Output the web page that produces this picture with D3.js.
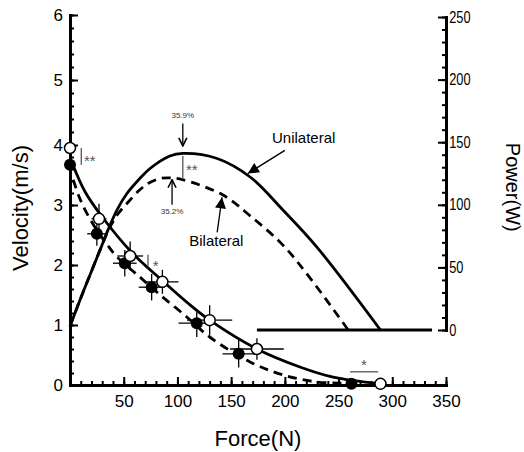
<!DOCTYPE html>
<html>
<head>
<meta charset="utf-8">
<script src="https://cdn.jsdelivr.net/npm/d3@7"></script>
<style>
body { margin: 0; background: #fff; }
svg { display: block; font-family: "Liberation Sans", Arial, sans-serif; }
</style>
</head>
<body>
<div id="chart"></div>
<script>
// measured means (open = unilateral, filled = bilateral)
const uniForce = [0, 27, 56, 86, 130, 174, 289];
const uniVel = [3.95, 2.77, 2.15, 1.72, 1.08, 0.60, 0.02];
const uniForceErr = [0, 7, 12, 15, 21, 25, 0];
const uniVelErr = [0, 0.25, 0.24, 0.2, 0.25, 0.18, 0];

const biForce = [0, 25, 51, 76, 118, 157, 262];
const biVel = [3.67, 2.52, 2.03, 1.63, 1.03, 0.52, 0.02];
const biForceErr = [0, 9, 11, 12, 17, 15, 0];
const biVelErr = [0, 0.2, 0.22, 0.22, 0.23, 0.23, 0];

// fitted force-velocity curves
const uniFitForce = [2, 14, 30, 58, 84, 112, 130, 174, 214, 245, 289];
const uniFitVel = [3.70, 3.22, 2.80, 2.20, 1.77, 1.33, 1.08, 0.60, 0.30, 0.13, 0.02];
const biFitForce = [3, 8, 14, 25, 35, 44, 65, 84, 109, 130, 168, 198, 230, 259];
const biFitVel = [3.42, 3.16, 2.92, 2.58, 2.33, 2.13, 1.80, 1.50, 1.13, 0.80, 0.38, 0.17, 0.05, 0.03];

// force-power curves (right axis)
const uniPowForce = [0, 9.3, 18.6, 28, 35.4, 43.8, 53, 65, 74.5, 93, 105, 137, 168, 198, 230, 289];
const uniPow = [3, 24, 44, 64, 80, 96, 109, 121, 129, 139, 141, 137, 122, 96, 66, 0];
const biPowForce = [0, 9.3, 18.6, 28, 35.4, 44, 54, 65, 72.6, 84, 93, 105, 142, 168, 198, 223, 259];
const biPow = [3, 24, 44, 64, 79, 92, 102, 112, 117, 121, 121.5, 120, 108, 91, 68, 42, 0];
const powZeroForce = [174, 337];

// axis ticks
const forceTicks = [50, 100, 150, 200, 250, 300, 350];
const velTicks = [0, 1, 2, 3, 4, 5, 6];
const powTicks = [0, 50, 100, 150, 200, 250];

const width = 524, height = 452;

const svg = d3.select('#chart').append('svg')
    .attr('width', width)
    .attr('height', height)
    .attr('viewBox', [0, 0, width, height]);

let x = d3.scaleLinear().domain([0, 350]).range([70, 446]);
// the printed velocity axis is not quite even above 4
let yV = d3.scaleLinear().domain([0, 4, 6]).range([385, 145, 15]);
let yP = d3.scaleLinear().domain([0, 250]).range([330, 17]);

svg.append('defs').call(defs => {
    defs.append('marker')
        .attr('id', 'headFill')
        .attr('viewBox', '0 0 10 10')
        .attr('refX', 10).attr('refY', 5)
        .attr('markerUnits', 'userSpaceOnUse')
        .attr('markerWidth', 15).attr('markerHeight', 11)
        .attr('orient', 'auto')
        .append('path').attr('d', 'M0,0L10,5L0,10Z').attr('fill', '#000');
    defs.append('marker')
        .attr('id', 'headOpen')
        .attr('viewBox', '0 0 10 10')
        .attr('refX', 9).attr('refY', 5)
        .attr('markerUnits', 'userSpaceOnUse')
        .attr('markerWidth', 10).attr('markerHeight', 10)
        .attr('orient', 'auto')
        .append('path').attr('d', 'M1,1L9,5L1,9').attr('fill', 'none')
        .attr('stroke', '#000').attr('stroke-width', 1.6);
});

function styleAxis(g, fontSize) {
    g.select('.domain').attr('stroke-width', 3).attr('stroke-linecap', 'square');
    g.selectAll('.tick line').attr('stroke-width', 2);
    g.selectAll('.tick text').attr('font-size', fontSize).attr('fill', '#000')
        .attr('font-family', '"Liberation Sans", Arial, sans-serif');
}

// left axis (velocity)
svg.append('g')
    .attr('transform', `translate(${x(0)},0)`)
    .call(d3.axisLeft(yV).tickValues(d3.range(0, 6.01, 0.2)).tickSizeInner(-4).tickSizeOuter(0).tickFormat(''))
    .call(g => styleAxis(g, 17));
svg.append('g')
    .attr('transform', `translate(${x(0)},0)`)
    .call(d3.axisLeft(yV).tickValues(velTicks).tickSizeInner(-8).tickSizeOuter(0).tickPadding(7).tickFormat(d3.format('d')))
    .call(g => styleAxis(g, 17));

// bottom axis (force)
svg.append('g')
    .attr('transform', `translate(0,${yV(0)})`)
    .call(d3.axisBottom(x).tickValues(d3.range(0, 351, 10)).tickSizeInner(-4).tickSizeOuter(0).tickFormat(''))
    .call(g => styleAxis(g, 17));
svg.append('g')
    .attr('transform', `translate(0,${yV(0)})`)
    .call(d3.axisBottom(x).tickValues(forceTicks).tickSizeInner(-8).tickSizeOuter(0).tickPadding(10))
    .call(g => styleAxis(g, 17));

// right axis (power) - labels are printed in a narrow face
svg.append('g')
    .attr('transform', `translate(${x(350)},0)`)
    .call(d3.axisRight(yP).tickValues(d3.range(0, 251, 10)).tickSizeInner(-4).tickSizeOuter(0).tickFormat(''))
    .call(g => styleAxis(g, 16));
svg.append('g')
    .attr('transform', `translate(${x(350)},0)`)
    .call(d3.axisRight(yP).tickValues(powTicks).tickSizeInner(-8).tickSizeOuter(0).tickPadding(4))
    .call(g => styleAxis(g, 16))
    .call(g => g.selectAll('.tick text').attr('transform', 'scale(0.8,1)'));

// axis titles
svg.append('text')
    .attr('transform', `translate(28,${yV(2.95)}) rotate(-90)`)
    .attr('text-anchor', 'middle')
    .attr('font-size', 22)
    .text('Velocity(m/s)');
svg.append('text')
    .attr('transform', `translate(506,${yP(114)}) rotate(90)`)
    .attr('text-anchor', 'middle')
    .attr('font-size', 20)
    .text('Power(W)');
svg.append('text')
    .attr('x', x(175))
    .attr('y', 446)
    .attr('text-anchor', 'middle')
    .attr('font-size', 22)
    .text('Force(N)');

// curves
let velLine = d3.line().x(d => x(d[0])).y(d => yV(d[1])).curve(d3.curveCatmullRom.alpha(0.5));
let powLine = d3.line().x(d => x(d[0])).y(d => yP(d[1])).curve(d3.curveCatmullRom.alpha(0.5));

svg.append('path')
    .attr('d', powLine(d3.zip(powZeroForce, [0, 0])))
    .attr('fill', 'none').attr('stroke', '#000').attr('stroke-width', 3);

svg.append('path')
    .attr('d', powLine(d3.zip(uniPowForce, uniPow)))
    .attr('fill', 'none').attr('stroke', '#000').attr('stroke-width', 2.8);
svg.append('path')
    .attr('d', powLine(d3.zip(biPowForce, biPow)))
    .attr('fill', 'none').attr('stroke', '#000').attr('stroke-width', 2.8)
    .attr('stroke-dasharray', '9,6');

svg.append('path')
    .attr('d', velLine(d3.zip(uniFitForce, uniFitVel)))
    .attr('fill', 'none').attr('stroke', '#000').attr('stroke-width', 2.8);
svg.append('path')
    .attr('d', velLine(d3.zip(biFitForce, biFitVel)))
    .attr('fill', 'none').attr('stroke', '#000').attr('stroke-width', 2.8)
    .attr('stroke-dasharray', '9,6');

// error bars and points
function drawPoints(forces, vels, fErr, vErr, filled) {
    let pts = d3.zip(forces, vels, fErr, vErr);
    let g = svg.append('g');
    g.selectAll('line.h')
        .data(pts.filter(d => d[2] > 0))
        .join('line')
        .attr('x1', d => x(d[0] - d[2])).attr('x2', d => x(d[0] + d[2]))
        .attr('y1', d => yV(d[1])).attr('y2', d => yV(d[1]))
        .attr('stroke', '#000').attr('stroke-width', 1.3);
    g.selectAll('line.v')
        .data(pts.filter(d => d[3] > 0))
        .join('line')
        .attr('x1', d => x(d[0])).attr('x2', d => x(d[0]))
        .attr('y1', d => yV(d[1] - d[3])).attr('y2', d => yV(d[1] + d[3]))
        .attr('stroke', '#000').attr('stroke-width', 1.3);
    g.selectAll('circle')
        .data(pts)
        .join('circle')
        .attr('cx', d => x(d[0]))
        .attr('cy', d => yV(d[1]))
        .attr('r', filled ? 6 : 5.5)
        .attr('fill', filled ? '#000' : '#fff')
        .attr('stroke', '#000')
        .attr('stroke-width', filled ? 0 : 1.5);
}
drawPoints(biForce, biVel, biForceErr, biVelErr, true);
drawPoints(uniForce, uniVel, uniForceErr, uniVelErr, false);

// significance marks
const gray = '#555';
function vbar(f, y1, y2) {
    svg.append('line')
        .attr('x1', x(f)).attr('x2', x(f)).attr('y1', y1).attr('y2', y2)
        .attr('stroke', gray).attr('stroke-width', 1.3);
}
function star(f, y, txt, anchor) {
    svg.append('text')
        .attr('x', x(f)).attr('y', y)
        .attr('text-anchor', anchor || 'start')
        .attr('font-size', 15).attr('fill', gray)
        .text(txt);
}
vbar(10.5, yV(3.95), yV(3.67));
star(13, yV(3.65), '**');
vbar(72.6, yV(2.17), yV(1.97));
star(77, yV(1.9), '*');
svg.append('line')
    .attr('x1', x(260.7)).attr('x2', x(286.8)).attr('y1', yV(0.22)).attr('y2', yV(0.22))
    .attr('stroke', gray).attr('stroke-width', 1.3);
star(273.7, yV(0.25), '*', 'middle');
vbar(105, yP(139), yP(121));
star(108, yP(124), '**');

// peak annotations
svg.append('text')
    .attr('x', x(105)).attr('y', yP(169.5))
    .attr('text-anchor', 'middle').attr('font-size', 8).attr('fill', '#333')
    .text('35.9%');
svg.append('line')
    .attr('x1', x(105)).attr('x2', x(105)).attr('y1', yP(165)).attr('y2', yP(147))
    .attr('stroke', '#000').attr('stroke-width', 1.3).attr('marker-end', 'url(#headOpen)');
svg.append('text')
    .attr('x', x(95)).attr('y', yP(93))
    .attr('text-anchor', 'middle').attr('font-size', 8).attr('fill', '#333')
    .text('35.2%');
svg.append('line')
    .attr('x1', x(95)).attr('x2', x(95)).attr('y1', yP(100)).attr('y2', yP(120))
    .attr('stroke', '#000').attr('stroke-width', 1.3).attr('marker-end', 'url(#headOpen)');

// series labels with arrows
svg.append('text')
    .attr('x', x(188)).attr('y', yP(149))
    .attr('font-size', 15)
    .text('Unilateral');
svg.append('line')
    .attr('x1', x(200)).attr('y1', yP(143.5))
    .attr('x2', x(165.5)).attr('y2', yP(125))
    .attr('stroke', '#000').attr('stroke-width', 1.3).attr('marker-end', 'url(#headFill)');
svg.append('text')
    .attr('x', x(111)).attr('y', yP(67))
    .attr('font-size', 15)
    .text('Bilateral');
svg.append('line')
    .attr('x1', x(137)).attr('y1', yP(78))
    .attr('x2', x(141.5)).attr('y2', yP(106))
    .attr('stroke', '#000').attr('stroke-width', 1.3).attr('marker-end', 'url(#headFill)');
</script>
</body>
</html>
